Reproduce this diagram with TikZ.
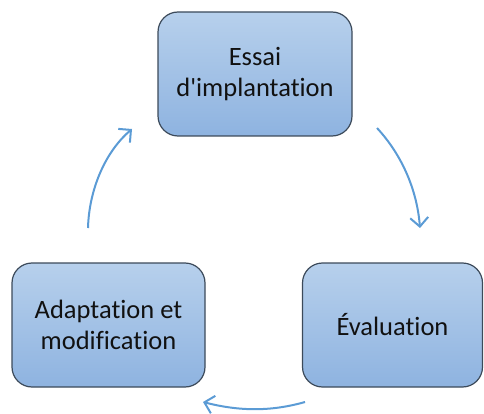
\documentclass[tikz,border=0pt]{standalone}
\usepackage{fontspec}
\setmainfont[Ligatures={TeXOff,NoCommon}]{Carlito}
\usetikzlibrary{arrows.meta}
\definecolor{boxtop}{HTML}{B7D0EC}
\definecolor{boxbot}{HTML}{8EB3E0}
\definecolor{boxline}{HTML}{3C4A5A}
\definecolor{arrowblue}{HTML}{5B9BD5}
\definecolor{txt}{HTML}{111111}
\tikzset{
  stagebox/.style={draw=boxline, line width=1.2pt, rounded corners=20pt,
    top color=boxtop, bottom color=boxbot, align=center, text=txt,
    font=\fontsize{26.5}{31}\selectfont, inner sep=0pt},
  cyclearrow/.style={draw=arrowblue, line width=2pt,
    -{Straight Barb[length=9pt,width=18pt,line width=2pt]}}
}
\begin{document}
\begin{tikzpicture}[x=1pt,y=-1pt]
\useasboundingbox (0,0) rectangle (484,414);
\node[stagebox, minimum width=194pt, minimum height=124pt] (essai) at (255,74) {Essai\\d'implantation};
\node[stagebox, minimum width=193pt, minimum height=124pt] (adapt) at (108.5,325) {Adaptation et\\modification};
\node[stagebox, minimum width=180pt, minimum height=124pt] (eval) at (392.5,325) {Évaluation};
\coordinate (a1s) at (377,128);
\coordinate (a1e) at (420,228);
\coordinate (a2s) at (305,402);
\coordinate (a2e) at (203,402);
\coordinate (a3s) at (88,228);
\coordinate (a3e) at (132,129);
\draw[cyclearrow] (a1s) .. controls (402,155) and (417,190) .. (a1e);
\draw[cyclearrow] (a2s) .. controls (270,412) and (238,411) .. (a2e);
\draw[cyclearrow] (a3s) .. controls (89,190) and (105,152) .. (a3e);
\end{tikzpicture}
\end{document}
